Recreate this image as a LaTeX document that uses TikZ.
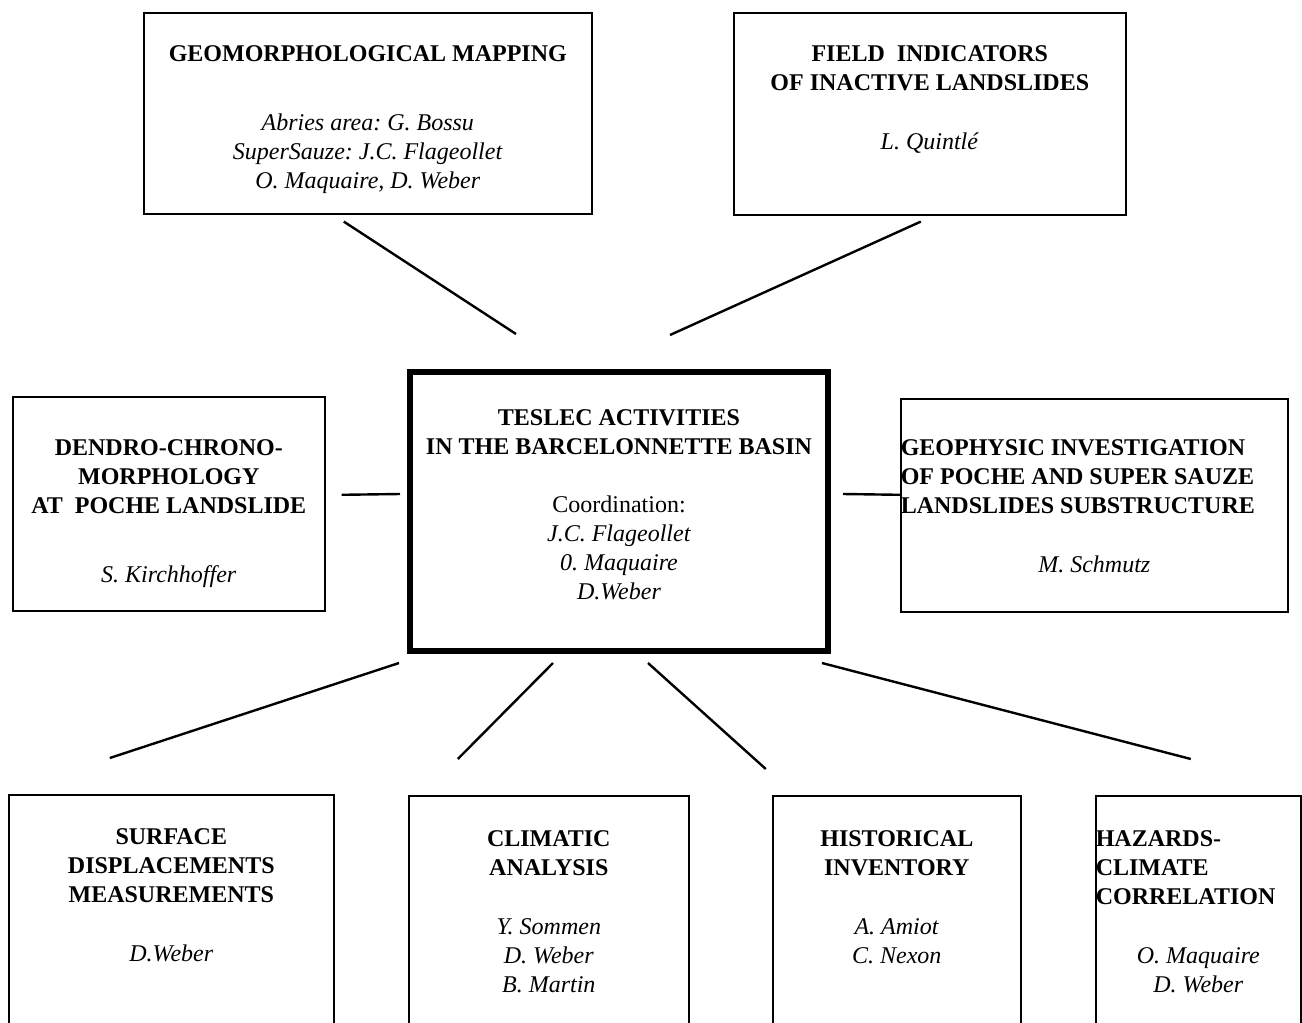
\documentclass[tikz,border=0pt]{standalone}
\usepackage{fontspec}
\setmainfont{Liberation Serif}
\frenchspacing
\newcommand{\paneltext}[4]{%
  \parbox[t][#2][t]{#1}{\fontsize{24}{29}\selectfont\vspace*{#3}\centering #4}}
\tikzset{
  panel/.style={draw, line width=1.6pt, inner sep=0pt, anchor=north west},
  mainpanel/.style={panel, line width=6pt},
  link/.style={line width=2.4pt}
}
\begin{document}
\begin{tikzpicture}[x=1pt, y=-1pt]
  \useasboundingbox (0,0) rectangle (1302,1023);
  \clip (0,0) rectangle (1302,1023);
  % top row
  \node[panel] (geo) at (143,12) {\paneltext{448pt}{201pt}{33pt}{\textbf{GEOMORPHOLOGICAL MAPPING}\\[40pt]\textit{Abries area: G. Bossu}\\\textit{SuperSauze: J.C. Flageollet}\\\textit{O. Maquaire, D. Weber}}};
  \node[panel] (field) at (733,12) {\paneltext{392pt}{202pt}{33pt}{\textbf{FIELD~ INDICATORS\\OF INACTIVE LANDSLIDES}\\[30pt]\textit{L. Quintlé}}};
  % middle row
  \node[panel] (dendro) at (12,396) {\paneltext{312pt}{214pt}{43pt}{\textbf{DENDRO-CHRONO-\\MORPHOLOGY\\AT~ POCHE LANDSLIDE}\\[40pt]\textit{S. Kirchhoffer}}};
  \node[mainpanel] (teslec) at (407,369) {\paneltext{418pt}{279pt}{38pt}{\textbf{TESLEC ACTIVITIES\\IN THE BARCELONNETTE BASIN}\\[29pt]Coordination:\\\textit{J.C. Flageollet}\\\textit{0. Maquaire}\\\textit{D.Weber}}};
  \node[panel] (geophys) at (900,398) {\paneltext{387pt}{213pt}{41pt}{{\raggedright\textbf{GEOPHYSIC INVESTIGATION\\OF POCHE AND SUPER SAUZE\\LANDSLIDES SUBSTRUCTURE}\par}\vspace{30pt}\textit{M. Schmutz}}};
  % bottom row
  \node[panel] (surface) at (8,794) {\paneltext{325pt}{246pt}{34pt}{\textbf{SURFACE\\DISPLACEMENTS\\MEASUREMENTS}\\[30pt]\textit{D.Weber}}};
  \node[panel] (climatic) at (408,795) {\paneltext{280pt}{245pt}{35pt}{\textbf{CLIMATIC\\ANALYSIS}\\[30pt]\textit{Y. Sommen}\\\textit{D. Weber}\\\textit{B. Martin}}};
  \node[panel] (historical) at (772,795) {\paneltext{248pt}{245pt}{35pt}{\textbf{HISTORICAL\\INVENTORY}\\[30pt]\textit{A. Amiot}\\\textit{C. Nexon}}};
  \node[panel] (hazards) at (1095,795) {\paneltext{205pt}{245pt}{35pt}{{\raggedright\textbf{HAZARDS-\\CLIMATE\\CORRELATION}\par}\vspace{30pt}\textit{O. Maquaire}\\\textit{D. Weber}}};
  % connectors
  \draw[link] ([xshift=-24pt,yshift=-7pt]geo.south) -- ([xshift=-103pt,yshift=35pt]teslec.north);
  \draw[link] ([xshift=-9pt,yshift=-6pt]field.south) -- ([xshift=51pt,yshift=34pt]teslec.north);
  \draw[link] ([xshift=16pt,yshift=9pt]dendro.east) -- ([xshift=-7pt,yshift=17.5pt]teslec.west);
  \draw[link] ([xshift=12pt,yshift=17.5pt]teslec.east) -- ([yshift=10.5pt]geophys.west);
  \draw[link] ([xshift=-220pt,yshift=-9pt]teslec.south) -- ([xshift=-61.5pt,yshift=36pt]surface.north);
  \draw[link] ([xshift=-66pt,yshift=-9pt]teslec.south) -- ([xshift=-91pt,yshift=36pt]climatic.north);
  \draw[link] ([xshift=29pt,yshift=-9pt]teslec.south) -- ([xshift=-131pt,yshift=26pt]historical.north);
  \draw[link] ([xshift=203pt,yshift=-9pt]teslec.south) -- ([xshift=-7.5pt,yshift=36pt]hazards.north);
\end{tikzpicture}
\end{document}
